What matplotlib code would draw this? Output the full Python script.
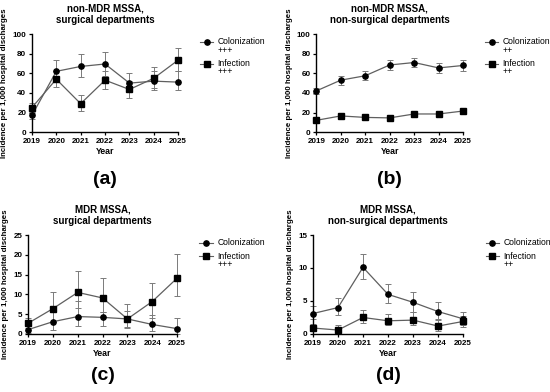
import matplotlib.pyplot as plt
import numpy as np

plt.rcParams['font.family'] = ['Liberation Sans', 'DejaVu Sans']

years = [2019, 2020, 2021, 2022, 2023, 2024, 2025]

# (a) non-MDR MSSA, surgical departments
a_col = [17, 62, 67, 69.5, 50, 52, 51]
a_col_lo = [13, 51, 56, 57, 41, 43, 43]
a_col_hi = [21, 73.5, 80, 81.5, 60.5, 62, 62]
a_inf = [25, 54, 29, 53, 43.5, 55, 73.5]
a_inf_lo = [20, 46, 22, 44, 35, 45, 62]
a_inf_hi = [30, 62, 37.5, 62, 52, 66, 86]

# (b) non-MDR MSSA, non-surgical departments
b_col = [42, 53, 57.5, 68.5, 71, 65.5, 68]
b_col_lo = [39, 48.5, 53, 63.5, 66, 60.5, 62.5]
b_col_hi = [45, 57.5, 62, 73.5, 76, 70.5, 73.5]
b_inf = [12, 16.5, 15, 14.5, 18.5, 18.5, 21.5]
b_inf_lo = [10.5, 14.5, 13, 13, 16.5, 16.5, 19]
b_inf_hi = [13.5, 18.5, 17, 16, 20.5, 20.5, 24]

# (c) MDR MSSA, surgical departments
c_col = [1.1, 3.1, 4.4, 4.2, 3.8, 2.4, 1.35]
c_col_lo = [0.3, 1.1, 1.9, 1.9, 1.8, 0.8, 0.0]
c_col_hi = [2.0, 5.5, 8.4, 5.5, 5.8, 4.8, 4.0]
c_inf = [2.7, 6.4, 10.5, 9.1, 3.8, 8.2, 14.1]
c_inf_lo = [1.6, 3.1, 6.6, 5.5, 1.5, 4.0, 9.7]
c_inf_hi = [4.0, 10.7, 16.0, 14.1, 7.6, 12.9, 20.1]

# (d) MDR MSSA, non-surgical departments
d_col = [3.1, 4.0, 10.1, 6.0, 4.8, 3.4, 2.3]
d_col_lo = [2.2, 2.9, 8.3, 4.7, 3.4, 2.2, 1.3]
d_col_hi = [4.3, 5.4, 12.1, 7.6, 6.3, 4.8, 3.4]
d_inf = [0.9, 0.6, 2.5, 2.0, 2.1, 1.2, 1.9]
d_inf_lo = [0.4, 0.2, 1.6, 1.3, 1.4, 0.5, 1.1]
d_inf_hi = [1.5, 1.4, 3.6, 3.0, 3.3, 2.1, 2.7]

panels = [
    ('non-MDR MSSA,\nsurgical departments', '(a)', [0.058, 0.663, 0.266, 0.250],
     0.543, 100, 20, a_col, a_col_lo, a_col_hi, a_inf, a_inf_lo, a_inf_hi, '+++', '+++'),
    ('non-MDR MSSA,\nnon-surgical departments', '(b)', [0.575, 0.663, 0.267, 0.250],
     0.543, 100, 20, b_col, b_col_lo, b_col_hi, b_inf, b_inf_lo, b_inf_hi, '++', '++'),
    ('MDR MSSA,\nsurgical departments', '(c)', [0.051, 0.148, 0.271, 0.2525],
     0.041, 25, 5, c_col, c_col_lo, c_col_hi, c_inf, c_inf_lo, c_inf_hi, '', '+++'),
    ('MDR MSSA,\nnon-surgical departments', '(d)', [0.569, 0.148, 0.273, 0.2525],
     0.041, 15, 5, d_col, d_col_lo, d_col_hi, d_inf, d_inf_lo, d_inf_hi, '', '++'),
]

line_c = '#5f5f5f'
err_c = '#7a7a7a'

fig = plt.figure(figsize=(5.5, 3.92), dpi=100)

for (title, tag, pos, tag_y, ymax, ystep, col, col_lo, col_hi,
     inf, inf_lo, inf_hi, col_sig, inf_sig) in panels:
    ax = fig.add_axes(pos)
    for vals, lo, hi, mk, ms in [(col, col_lo, col_hi, 'o', 3.8),
                                 (inf, inf_lo, inf_hi, 's', 4.0)]:
        vals = np.array(vals)
        yerr = [vals - np.array(lo), np.array(hi) - vals]
        ax.errorbar(years, vals, yerr=yerr, fmt='none', ecolor=err_c,
                    elinewidth=0.7, capsize=2.5, capthick=0.7, clip_on=False,
                    zorder=2)
        ax.plot(years, vals, color=line_c, lw=0.9, clip_on=False, zorder=3)
        ax.plot(years, vals, ls='none', marker=mk, ms=ms, color='black',
                clip_on=False, zorder=4)

    ax.set_xlim(2019, 2025)
    ax.set_ylim(0, ymax)
    ax.set_xticks(years)
    ax.set_yticks(np.arange(0, ymax + 1, ystep))
    for s in ['top', 'right']:
        ax.spines[s].set_visible(False)
    for s in ['left', 'bottom']:
        ax.spines[s].set_linewidth(1.0)
    ax.tick_params(length=2.5, width=0.9, labelsize=5.8, pad=1.5)
    for lab in ax.get_xticklabels() + ax.get_yticklabels():
        lab.set_fontweight('bold')
    ax.set_xlabel('Year', fontsize=6.3, fontweight='bold', labelpad=2)
    ax.set_ylabel('Incidence per 1,000 hospital discharges', fontsize=5.7,
                  fontweight='bold', labelpad=3)
    ax.set_title(title, fontsize=7, fontweight='bold', pad=8,
                 linespacing=1.15)
    x0, y0, w, h = pos
    fig.text(x0 + w / 2, tag_y, tag, ha='center', va='center',
             fontsize=14, fontweight='bold')

    # legend drawn by hand so markers line up with the first text line
    yy = 0.92
    for mk, ms, name, sig in [('o', 3.8, 'Colonization', col_sig),
                              ('s', 4.0, 'Infection', inf_sig)]:
        ax.plot([1.15, 1.24], [yy, yy], color=line_c, lw=0.8,
                transform=ax.transAxes, clip_on=False)
        ax.plot([1.195], [yy], marker=mk, ms=ms, color='black',
                transform=ax.transAxes, clip_on=False)
        ax.text(1.27, yy, name, transform=ax.transAxes, ha='left',
                va='center', fontsize=6.2)
        last = yy
        if sig:
            last = yy - 0.085
            ax.text(1.27, last, sig, transform=ax.transAxes, ha='left',
                    va='center', fontsize=6.2)
        yy = last - 0.135

fig.savefig('out.png', dpi=100)
